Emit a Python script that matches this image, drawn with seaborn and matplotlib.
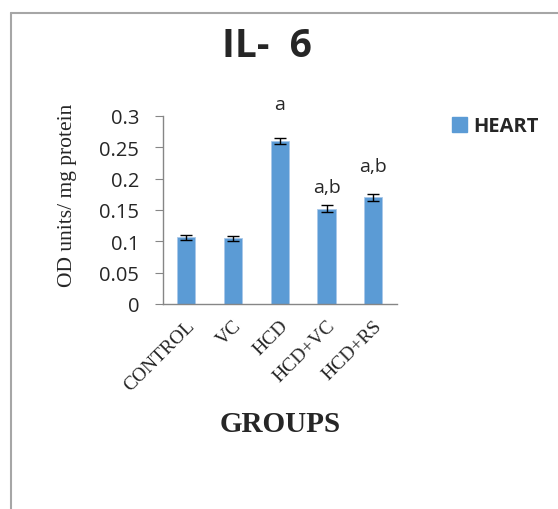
import matplotlib
matplotlib.use("Agg")
import matplotlib.pyplot as plt
import seaborn as sns
import pandas as pd
from matplotlib.lines import Line2D
from matplotlib.patches import Patch

groups = ["CONTROL", "VC", "HCD", "HCD+VC", "HCD+RS"]
values = [0.106, 0.105, 0.260, 0.152, 0.170]
errors = [0.004, 0.004, 0.005, 0.005, 0.006]
sig_labels = ["", "", "a", "a,b", "a,b"]
sig_y = [None, None, 0.319, 0.187, 0.220]
series_name = "HEART"
yticks = [0, 0.05, 0.1, 0.15, 0.2, 0.25, 0.3]
ytick_labels = ["0", "0.05", "0.1", "0.15", "0.2", "0.25", "0.3"]

sns.set_style("white")
plt.rcParams["font.family"] = ["Open Sans", "DejaVu Sans"]

bar_color = "#5B9BD5"
axis_gray = "#868686"

fig = plt.figure(figsize=(5.58, 5.10), dpi=100)
ax = fig.add_axes([0.292, 0.402, 0.419, 0.369])

df = pd.DataFrame({"group": groups, "value": values})
sns.barplot(data=df, x="group", y="value", color=bar_color, width=0.39,
            edgecolor="#A9C8EA", linewidth=0.6, saturation=1, ax=ax)
ax.errorbar(range(len(groups)), values, yerr=errors, fmt="none",
            ecolor="black", elinewidth=1.0, capsize=4, capthick=1.0)

for i, (lab, y) in enumerate(zip(sig_labels, sig_y)):
    if lab:
        ax.text(i, y, lab, ha="center", va="center", fontsize=14,
                clip_on=False)

ax.set_xlim(-0.5, len(groups) - 0.5)
ax.set_ylim(0, 0.3)
ax.set_yticks(yticks)
ax.set_yticklabels(ytick_labels, fontsize=14.5)
ax.set_xticks(range(len(groups)))
ax.set_xticklabels(groups, rotation=45, ha="right", rotation_mode="anchor",
                   fontsize=14, family=["Liberation Serif"])
ax.set_xticks([i - 0.5 for i in range(len(groups) + 1)], minor=True)
ax.tick_params(axis="x", which="major", length=0, pad=9)
ax.tick_params(axis="x", which="minor", length=5, color=axis_gray, direction="out")
ax.tick_params(axis="y", which="major", length=6, color=axis_gray, direction="out",
               left=True, pad=11)

for s in ["top", "right"]:
    ax.spines[s].set_visible(False)
for s in ["left", "bottom"]:
    ax.spines[s].set_color(axis_gray)
    ax.spines[s].set_linewidth(1.0)

ax.set_xlabel("GROUPS", fontsize=21, fontweight="bold",
              family=["Liberation Serif"], labelpad=12)
ax.set_ylabel("OD units/ mg protein", fontsize=15.5,
              family=["Liberation Serif"], va="center")
ax.yaxis.set_label_coords(-0.41, 0.585)

fig.text(0.478, 0.908, "IL-  6", ha="center", va="center", fontsize=28,
         fontweight="bold")

handles = [Patch(facecolor=bar_color, edgecolor=bar_color, label=series_name)]
leg = fig.legend(handles=handles, loc="center left",
                 bbox_to_anchor=(0.777, 0.750), frameon=False,
                 handlelength=0.75, handleheight=0.75, handletextpad=0.3,
                 prop={"family": "Open Sans", "weight": "bold", "size": 14.5})

fig.add_artist(Line2D([11 / 558, 11 / 558], [0, 1 - 14 / 510],
                      transform=fig.transFigure, color="#A6A6A6", linewidth=1.5))
fig.add_artist(Line2D([11 / 558, 1], [1 - 14 / 510, 1 - 14 / 510],
                      transform=fig.transFigure, color="#A6A6A6", linewidth=1.5))

fig.savefig("out.png", dpi=100, facecolor="white")
